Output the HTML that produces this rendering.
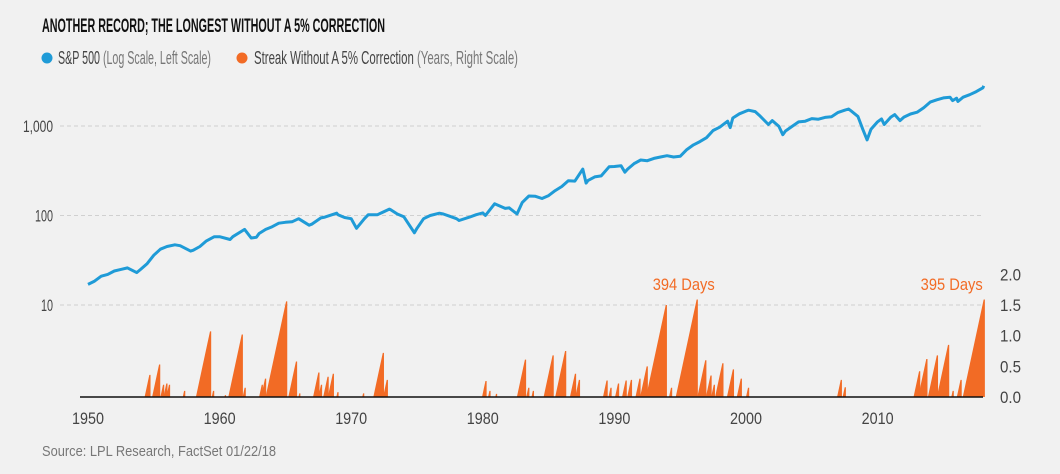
<!DOCTYPE html>
<html><head><meta charset="utf-8"><style>
body{margin:0;background:#f1f1f1;}
svg{display:block;font-family:"Liberation Sans Narrow","Liberation Sans",sans-serif;}
</style></head><body>
<svg id="chart" width="1060" height="474" viewBox="0 0 1060 474">
<rect width="1060" height="474" fill="#f1f1f1"/>
<text x="42" y="32" font-size="19" font-weight="bold" fill="#111" textLength="343" lengthAdjust="spacingAndGlyphs">ANOTHER RECORD; THE LONGEST WITHOUT A 5% CORRECTION</text>
<g>
<circle cx="47" cy="58" r="5.5" fill="#1f9bd7"/>
<text x="58" y="64" font-size="18" fill="#444" textLength="153" lengthAdjust="spacingAndGlyphs">S&amp;P 500 <tspan fill="#777">(Log Scale, Left Scale)</tspan></text>
<circle cx="242" cy="58" r="5.5" fill="#f26b25"/>
<text x="254" y="64" font-size="18" fill="#444" textLength="264" lengthAdjust="spacingAndGlyphs">Streak Without A 5% Correction <tspan fill="#777">(Years, Right Scale)</tspan></text>
</g>
<g id="grid"></g><g id="bars"></g><g id="line"></g><g id="axes"></g>
<text x="42" y="456" font-size="15" fill="#777" textLength="234" lengthAdjust="spacingAndGlyphs">Source: LPL Research, FactSet 01/22/18</text>
</svg>
<script>
const spDates=[1950,1950.5,1951,1951.5,1952,1952.5,1953,1953.7,1954,1954.5,
1955,1955.5,1956,1956.6,1957,1957.8,1958,1958.5,1959,1959.6,
1960,1960.8,1961,1961.9,1962.4,1962.8,1963,1963.5,1964,1964.5,
1965,1965.5,1966,1966.8,1967,1967.7,1968,1968.9,1969,1969.5,
1970,1970.4,1971,1971.3,1972,1972.9,1973,1973.5,1974,1974.8,
1975,1975.5,1976,1976.7,1977,1977.5,1978,1978.2,1979,1979.5,
1980,1980.2,1980.9,1981,1981.7,1982,1982.6,1983,1983.5,1984,
1984.5,1985,1985.5,1986,1986.5,1987,1987.6,1987.85,1988,1988.5,
1989,1989.6,1990,1990.5,1990.8,1991,1991.5,1992,1992.5,1993,
1993.5,1994,1994.5,1995,1995.5,1996,1996.5,1997,1997.5,1998,
1998.6,1998.8,1999,1999.5,2000,2000.2,2000.7,2001,2001.7,2002,
2002.5,2002.8,2003,2003.5,2004,2004.5,2005,2005.5,2006,2006.5,
2007,2007.5,2007.8,2008,2008.5,2008.9,2009.2,2009.5,2010,2010.3,
2010.5,2011,2011.3,2011.7,2012,2012.5,2013,2013.5,2014,2014.5,
2015,2015.5,2015.7,2016,2016.1,2016.5,2017,2017.5,2018,2018.06];
const spValues=[17,18.5,21,22,24,25,26,23,25,29,
36,42,45,47,46,40,41,45,52,58,
58,54,58,70,56,57,63,70,75,82,
84,85,92,78,80,94,96,106,102,95,
92,72,92,102,102,118,116,104,97,64,
72,92,100,106,104,98,92,88,96,102,
107,100,135,133,120,122,104,140,165,164,
155,167,190,211,245,242,330,230,247,270,
277,350,353,360,305,330,380,417,410,435,
450,466,450,459,545,615,670,740,890,970,
1130,960,1229,1370,1469,1500,1450,1320,1040,1148,
990,800,880,990,1111,1130,1211,1191,1248,1270,
1418,1500,1550,1468,1280,900,700,920,1115,1200,
1040,1257,1340,1150,1257,1360,1426,1600,1848,1960,
2058,2100,1920,2043,1880,2100,2238,2420,2673,2810];
const streakEnds=[1954.66,1955.4,1955.7,1955.95,1956.15,1957.3,1959.27,1959.5,1960.4,1961.68,1961.9,1963.2,1963.45,1965.05,1965.8,1966.05,1967.5,1967.7,1968.2,1968.6,1968.95,1970.9,1972.4,1972.7,1980.2,1980.5,1981,1983.2,1983.45,1983.8,1985.3,1986.25,1987.0,1987.3,1989.4,1989.7,1990.27,1990.85,1991.25,1991.9,1992.45,1993.9,1994.3,1996.25,1996.9,1997.3,1997.55,1998.2,1999.0,1999.6,2000.15,2007.2,2007.5,2013.15,2013.7,2014.5,2015.35,2015.7,2016.3,2018.06];
const streakPeaks=[0.36,0.53,0.2,0.22,0.2,0.1,1.07,0.1,0.03,1.02,0.15,0.2,0.3,1.56,0.58,0.06,0.4,0.2,0.33,0.38,0.08,0.06,0.72,0.28,0.26,0.1,0.05,0.61,0.15,0.1,0.68,0.75,0.38,0.28,0.27,0.15,0.22,0.27,0.28,0.3,0.5,1.5,0.15,1.59,0.6,0.35,0.2,0.55,0.45,0.3,0.15,0.28,0.16,0.42,0.62,0.68,0.85,0.1,0.28,1.59];
const leftTicks=[10,100,1000];const leftLabels=["10","100","1,000"];
const rightTicks=[0,0.5,1,1.5,2];const rightLabels=["0.0","0.5","1.0","1.5","2.0"];
const xTicks=[1950,1960,1970,1980,1990,2000,2010];
const NS="http://www.w3.org/2000/svg";
const X0=80,X1=983;
const x=yr=>88+(yr-1950)*13.16;
const yL=v=>305-(Math.log10(v)-1)*89.5;
const yR=v=>397-v*61.3;
function mk(tag,attrs,parent,txt){const e=document.createElementNS(NS,tag);for(const k in attrs)e.setAttribute(k,attrs[k]);if(txt!==undefined)e.textContent=txt;document.getElementById(parent).appendChild(e);return e;}
leftTicks.forEach((t,i)=>{
 const g=mk('line',{x1:60,x2:X1,y1:yL(t),y2:yL(t),stroke:'#d0d0d0','stroke-dasharray':'4,3'},'grid');
 
 
 const w=leftLabels[i].length*6;
 const l=mk('text',{x:53-w,y:yL(t)+6,'font-size':17,fill:'#444',textLength:w,lengthAdjust:'spacingAndGlyphs'},'axes',leftLabels[i]);
 
 
});
rightTicks.forEach((t,i)=>{
 const l=mk('text',{x:1000,y:yR(t)+6,'font-size':17,fill:'#444',textLength:21,lengthAdjust:'spacingAndGlyphs'},'axes',rightLabels[i]);
 
 
});
xTicks.forEach(t=>{
 const l=mk('text',{x:x(t)-16,y:424,'font-size':17,fill:'#444',textLength:32,lengthAdjust:'spacingAndGlyphs'},'axes',String(t));
 
 
});
streakEnds.forEach((e,i)=>{
 const p=streakPeaks[i],s=e-p;
 const poly=mk('polygon',{points:`${x(s)},${yR(0)} ${x(e)},${yR(p)} ${x(e)+1.2},${yR(p)} ${x(e)+1.2},${yR(0)}`,fill:'#f26b25'},'bars');
 
 
});
const d=spDates.map((t,i)=>(i?'L':'M')+x(t).toFixed(1)+','+yL(spValues[i]).toFixed(1)).join(' ');
const path=mk('path',{d:d,fill:'none',stroke:'#1f9bd7','stroke-width':3,'stroke-linejoin':'round'},'line');


const base=mk('line',{x1:X0,x2:X1,y1:yR(0),y2:yR(0),stroke:'#111','stroke-width':1.5},'axes');


[[1993.9,"394 Days",-13],[2018.06,"395 Days",-63]].forEach(a=>{
 const t=mk('text',{x:x(a[0])+a[2],y:290,'font-size':17,fill:'#f26b25',textLength:62,lengthAdjust:'spacingAndGlyphs'},'axes',a[1]);
 
 
});
</script>
</body></html>
